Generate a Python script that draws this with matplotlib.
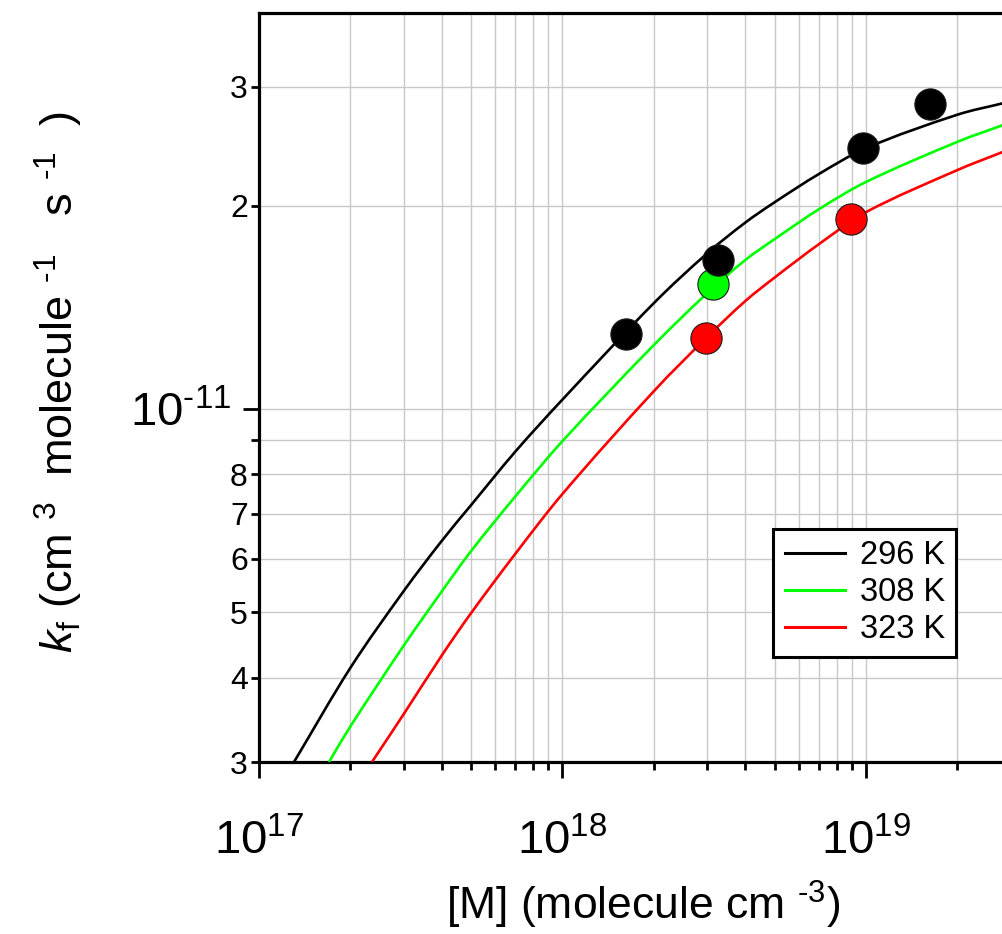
import math
import numpy as np
import matplotlib
matplotlib.use("Agg")
import matplotlib.pyplot as plt
from matplotlib.path import Path
from matplotlib.patches import PathPatch
from matplotlib.lines import Line2D
from matplotlib.ticker import LogLocator, FixedLocator, FuncFormatter, NullFormatter

plt.rcParams['font.family'] = ['Liberation Sans', 'DejaVu Sans']
plt.rcParams['mathtext.fontset'] = 'custom'
plt.rcParams['mathtext.rm'] = 'Liberation Sans'
plt.rcParams['mathtext.it'] = 'Liberation Sans:italic'
plt.rcParams['mathtext.bf'] = 'Liberation Sans:bold'
plt.rcParams['axes.unicode_minus'] = False

HY = '\u2010'  # plain hyphen for exponents

# Fall-off fits, k_f vs [M]
M_296 = [1.307e17, 2e17, 3e17, 4e17, 5e17, 7e17, 1e18, 2e18, 3e18, 4e18, 5e18, 7e18, 1e19, 2e19, 2.83e19]
k_296 = [3.0e-12, 4.13e-12, 5.37e-12, 6.37e-12, 7.20e-12, 8.645e-12, 1.032e-11, 1.434e-11, 1.700e-11,
         1.887e-11, 2.023e-11, 2.228e-11, 2.433e-11, 2.727e-11, 2.836e-11]

M_308 = [1.704e17, 2e17, 3e17, 4e17, 5e17, 7e17, 1e18, 2e18, 3e18, 4e18, 5e18, 7e18, 1e19, 2e19, 2.83e19]
k_308 = [3.0e-12, 3.382e-12, 4.458e-12, 5.36e-12, 6.155e-12, 7.42e-12, 8.956e-12, 1.243e-11, 1.484e-11,
         1.661e-11, 1.784e-11, 1.976e-11, 2.168e-11, 2.486e-11, 2.633e-11]

M_323 = [2.36e17, 3e17, 4e17, 5e17, 7e17, 1e18, 2e18, 3e18, 4e18, 5e18, 7e18, 1e19, 2e19, 2.83e19]
k_323 = [3.0e-12, 3.530e-12, 4.309e-12, 4.982e-12, 6.102e-12, 7.48e-12, 1.062e-11, 1.278e-11, 1.444e-11,
         1.565e-11, 1.754e-11, 1.956e-11, 2.258e-11, 2.403e-11]

# Measured rate coefficients
Mexp_296 = [1.62e18, 3.25e18, 9.75e18, 1.62e19]
kexp_296 = [1.29e-11, 1.66e-11, 2.435e-11, 2.825e-11]
Mexp_308 = [3.14e18]
kexp_308 = [1.53e-11]
Mexp_323 = [2.97e18, 8.93e18]
kexp_323 = [1.272e-11, 1.909e-11]

labels = ['296 K', '308 K', '323 K']
colors = ['#000000', '#00ff00', '#ff0000']


def smooth_curve(xs, ys):
    """Cubic Hermite path through the points, built in log-log space."""
    lx = np.log10(np.asarray(xs, float))
    ly = np.log10(np.asarray(ys, float))
    n = len(lx)
    m = np.empty(n)
    m[0] = (ly[1] - ly[0]) / (lx[1] - lx[0])
    m[-1] = (ly[-1] - ly[-2]) / (lx[-1] - lx[-2])
    for i in range(1, n - 1):
        m[i] = (ly[i + 1] - ly[i - 1]) / (lx[i + 1] - lx[i - 1])
    verts = [(lx[0], ly[0])]
    codes = [Path.MOVETO]
    for i in range(n - 1):
        h = lx[i + 1] - lx[i]
        verts += [(lx[i] + h / 3, ly[i] + m[i] * h / 3),
                  (lx[i + 1] - h / 3, ly[i + 1] - m[i + 1] * h / 3),
                  (lx[i + 1], ly[i + 1])]
        codes += [Path.CURVE4] * 3
    return Path(10 ** np.array(verts), codes)


W, H = 1003, 934
fig = plt.figure(figsize=(W / 100, H / 100), dpi=100)
x0, x1 = 258.7, 1003
y_top, y_bot = 13, 762
ax = fig.add_axes([x0 / W, (H - y_bot) / H, (x1 - x0) / W, (y_bot - y_top) / H])

ax.set_xscale('log')
ax.set_yscale('log')

fits = [(M_296, k_296), (M_308, k_308), (M_323, k_323)]
for (m, k), c in zip(fits, colors):
    ax.add_patch(PathPatch(smooth_curve(m, k), facecolor='none', edgecolor=c, lw=1.9, zorder=3))

exps = [(Mexp_323, kexp_323, colors[2]), (Mexp_308, kexp_308, colors[1]), (Mexp_296, kexp_296, colors[0])]
for m, k, c in exps:
    ax.plot(m, k, ls='none', marker='o', ms=22.5, mfc=c, mec='#1a1a1a', mew=0.8, zorder=4)

ax.set_xlim(1e17, 10 ** 19.451)
ax.set_ylim(3e-12, 3.857e-11)

# grid
ax.set_axisbelow(True)
ax.grid(which='both', color='#c8c8c8', lw=1.0)

# x axis ticks
ax.xaxis.set_major_locator(FixedLocator([1e17, 1e18, 1e19]))
ax.xaxis.set_minor_locator(LogLocator(base=10, subs=range(2, 10), numticks=20))
ax.xaxis.set_major_formatter(FuncFormatter(lambda v, p: r'$10^{%d}$' % round(math.log10(v))))
ax.xaxis.set_minor_formatter(NullFormatter())

# y axis ticks
ax.yaxis.set_major_locator(FixedLocator([1e-11]))
ax.yaxis.set_minor_locator(LogLocator(base=10, subs=range(2, 10), numticks=20))
ax.yaxis.set_major_formatter(FuncFormatter(lambda v, p: r'$10^{\mathregular{%s11}}$' % HY))
shown_minor = {3e-12: '3', 4e-12: '4', 5e-12: '5', 6e-12: '6', 7e-12: '7', 8e-12: '8', 2e-11: '2', 3e-11: '3'}


def minor_fmt(v, p):
    for key, txt in shown_minor.items():
        if abs(v / key - 1) < 1e-6:
            return txt
    return ''


ax.yaxis.set_minor_formatter(FuncFormatter(minor_fmt))

ax.tick_params(which='both', direction='out', width=2.0, color='black')
ax.tick_params(axis='x', which='major', length=11.5, labelsize=34, pad=30)
ax.tick_params(axis='x', which='minor', length=5.8)
ax.tick_params(axis='y', which='major', length=11.5, labelsize=34, pad=8.5)
ax.tick_params(axis='y', which='minor', length=5.8, labelsize=23, pad=2)

for side in ['left', 'bottom', 'top']:
    ax.spines[side].set_linewidth(2.3)
ax.spines['right'].set_visible(False)

# axis titles
fig.text(643 / W, 1 - 905 / H, r'[M] (molecule cm $^{\mathregular{%s3}}$)' % HY, fontsize=32,
         ha='center', va='center')
fig.text(59 / W, 1 - 382 / H,
         r'$\mathit{k}_{\mathregular{f}}$ (cm $^{\mathregular{3}}$  molecule $^{\mathregular{%s1}}$   s $^{\mathregular{%s1}}$  )'
         % (HY, HY),
         fontsize=32.5, rotation=90, ha='center', va='center')

handles = [Line2D([], [], color=c, lw=2.2) for c in colors]
leg = ax.legend(handles, labels, loc='upper left', bbox_to_anchor=(773.3 / W, 1 - 529 / H),
                bbox_transform=fig.transFigure, borderaxespad=0, fontsize=23.5, handlelength=1.85,
                handletextpad=0.45, labelspacing=0.185, borderpad=0.35, fancybox=False, framealpha=1,
                edgecolor='black')
leg.get_frame().set_linewidth(2.2)

fig.savefig('out.png', dpi=100, facecolor='white')
